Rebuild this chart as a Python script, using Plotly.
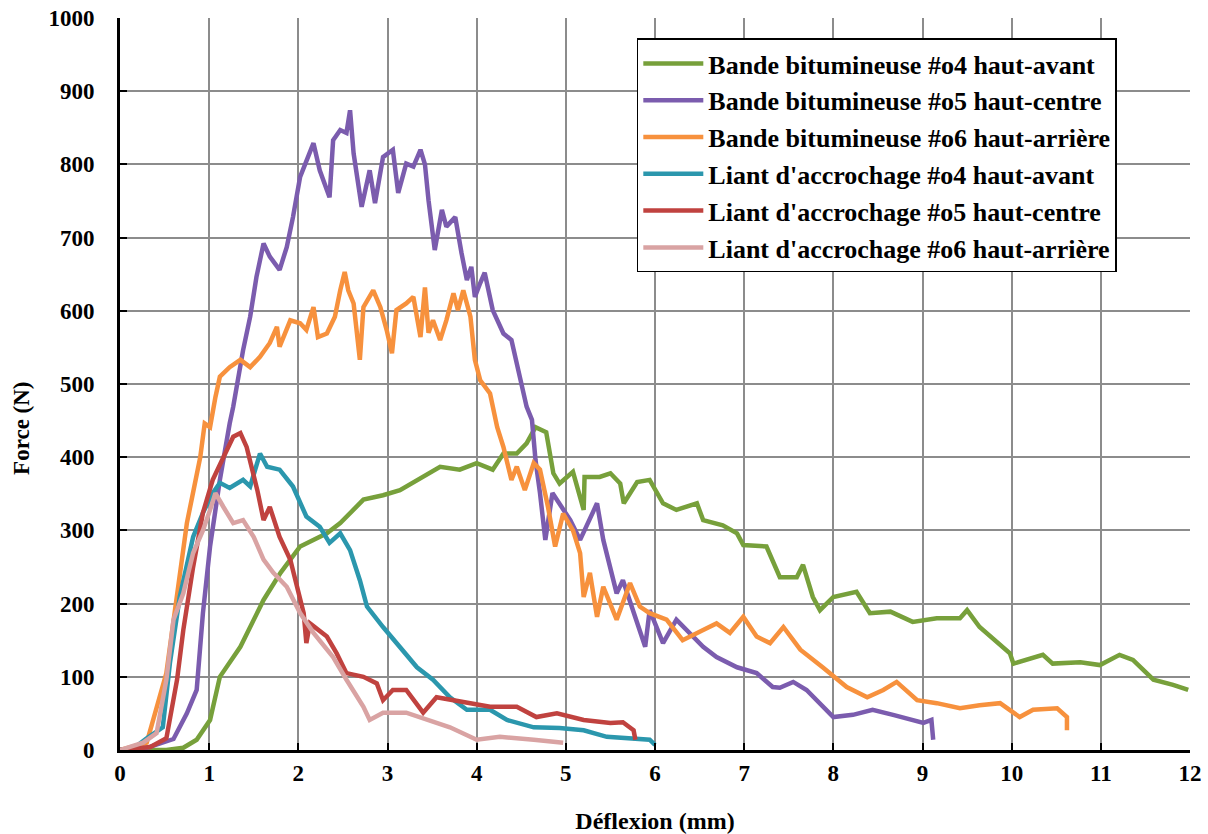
import plotly.graph_objects as go

# ---- Data ----
green_x = [0.0, 0.52, 0.71, 0.86, 1.01, 1.12, 1.35, 1.61, 1.80, 2.02, 2.32, 2.47, 2.73, 2.95, 3.14, 3.33, 3.59, 3.81,
           4.00, 4.18, 4.30, 4.45, 4.56, 4.66, 4.78, 4.86, 4.93, 5.08, 5.20, 5.21, 5.38, 5.50, 5.61, 5.65, 5.80, 5.94,
           6.09, 6.24, 6.47, 6.54, 6.76, 6.92, 6.99, 7.25, 7.37, 7.40, 7.59, 7.66, 7.77, 7.85, 8.00, 8.26, 8.41, 8.64,
           8.89, 9.16, 9.42, 9.50, 9.64, 9.98, 10.02, 10.35, 10.46, 10.77, 10.99, 11.21, 11.36, 11.59, 11.81, 11.98]
green_y = [0, 0, 3, 14, 41, 100, 141, 205, 242, 278, 296, 310, 342, 348, 355, 369, 387, 383,
           392, 383, 405, 405, 419, 441, 434, 378, 364, 380, 328, 373, 373, 378, 364, 337, 366, 369,
           337, 328, 337, 314, 307, 296, 280, 278, 242, 236, 236, 253, 209, 191, 209, 216, 187, 189,
           175, 180, 180, 191, 168, 132, 118, 130, 118, 120, 116, 130, 123, 96, 89, 82]

purple_x = [0.0, 0.30, 0.60, 0.75, 0.86, 0.93, 1.01, 1.12, 1.23, 1.27, 1.38, 1.46, 1.53, 1.61, 1.68, 1.79, 1.87, 1.94,
            2.02, 2.09, 2.17, 2.24, 2.35, 2.39, 2.47, 2.54, 2.58, 2.62, 2.71, 2.80, 2.86, 2.95, 3.06, 3.12, 3.21,
            3.29, 3.37, 3.42, 3.46, 3.53, 3.61, 3.66, 3.76, 3.83, 3.89, 3.94, 3.98, 4.04, 4.09, 4.18, 4.30, 4.39,
            4.49, 4.56, 4.62, 4.66, 4.71, 4.77, 4.85, 4.93, 5.05, 5.16, 5.35, 5.42, 5.57, 5.64, 5.74, 5.81, 5.89,
            5.94, 6.09, 6.24, 6.54, 6.69, 6.92, 7.14, 7.32, 7.40, 7.55, 7.70, 7.85, 8.00, 8.22, 8.44, 8.67, 8.89,
            9.01, 9.10, 9.12]
purple_y = [0, 3, 15, 50, 82, 187, 278, 369, 446, 469, 546, 592, 646, 692, 674, 656, 687, 728,
            783, 806, 829, 792, 755, 833, 847, 843, 874, 815, 742, 792, 747, 810, 820, 761, 801,
            797, 820, 800, 751, 683, 738, 715, 728, 679, 642, 660, 619, 638, 652, 601, 569, 560,
            510, 469, 451, 396, 351, 287, 351, 337, 314, 287, 337, 287, 214, 232, 195, 168, 141,
            191, 146, 178, 141, 127, 113, 105, 86, 85, 93, 82, 64, 45, 48, 55, 48, 41,
            37, 41, 14]

orange_x = [0.0, 0.30, 0.52, 0.64, 0.75, 0.81, 0.90, 0.95, 1.01, 1.07, 1.12, 1.23, 1.35, 1.46, 1.57, 1.68, 1.76,
            1.79, 1.91, 2.02, 2.09, 2.17, 2.22, 2.32, 2.41, 2.47, 2.52, 2.56, 2.62, 2.69, 2.73, 2.84, 2.92, 2.99,
            3.05, 3.10, 3.21, 3.29, 3.37, 3.42, 3.46, 3.51, 3.59, 3.66, 3.74, 3.79, 3.85, 3.93, 3.98, 4.04, 4.15,
            4.23, 4.30, 4.39, 4.45, 4.54, 4.64, 4.71, 4.80, 4.88, 4.97, 5.08, 5.16, 5.20, 5.27, 5.35, 5.42, 5.57,
            5.72, 5.83, 5.94, 6.13, 6.31, 6.54, 6.69, 6.84, 6.99, 7.14, 7.29, 7.44, 7.63, 7.88, 8.15, 8.38, 8.56,
            8.71, 8.94, 9.16, 9.42, 9.64, 9.87, 10.02, 10.09, 10.24, 10.51, 10.62, 10.62]
orange_y = [0, 10, 105, 209, 310, 346, 400, 446, 441, 482, 510, 523, 533, 523, 537, 556, 578,
            551, 587, 583, 574, 605, 564, 569, 592, 628, 653, 628, 610, 533, 605, 628, 605, 574,
            542, 601, 610, 619, 564, 632, 570, 587, 560, 587, 624, 601, 628, 592, 533, 505, 487,
            441, 414, 369, 387, 355, 392, 383, 332, 278, 323, 300, 269, 209, 242, 182, 223, 178,
            228, 196, 187, 178, 150, 164, 173, 160, 182, 155, 146, 168, 137, 113, 86, 72, 82,
            93, 68, 64, 57, 61, 64, 51, 45, 55, 57, 45, 27]

teal_x = [0.0, 0.15, 0.30, 0.48, 0.56, 0.67, 0.82, 0.93, 1.04, 1.12, 1.23, 1.38, 1.46, 1.57, 1.65, 1.79, 1.94,
          2.09, 2.24, 2.35, 2.47, 2.58, 2.69, 2.77, 2.95, 3.14, 3.33, 3.51, 3.70, 3.89, 4.15, 4.34, 4.64, 4.93,
          5.20, 5.46, 5.72, 5.94, 6.00]
teal_y = [0, 2, 16, 31, 119, 209, 291, 324, 351, 365, 358, 369, 360, 405, 387, 383, 360,
          319, 305, 283, 296, 273, 232, 196, 168, 141, 113, 96, 72, 55, 55, 41, 31, 30,
          27, 18, 16, 14, 7]

red_x = [0.0, 0.34, 0.52, 0.64, 0.71, 0.82, 0.93, 1.04, 1.16, 1.27, 1.35, 1.42, 1.54, 1.61, 1.68, 1.79, 1.91,
         1.98, 2.06, 2.09, 2.13, 2.32, 2.43, 2.54, 2.73, 2.88, 2.95, 3.06, 3.21, 3.40, 3.55, 3.74, 3.96, 4.15,
         4.45, 4.67, 4.90, 5.20, 5.50, 5.64, 5.76, 5.78]
red_y = [0, 4, 16, 96, 164, 250, 324, 369, 400, 428, 433, 414, 355, 314, 332, 291, 260,
         223, 187, 146, 173, 155, 132, 105, 100, 91, 68, 82, 82, 51, 72, 68, 64, 59,
         59, 45, 50, 41, 37, 38, 27, 14]

pink_x = [0.0, 0.26, 0.41, 0.52, 0.60, 0.71, 0.82, 0.93, 1.01, 1.07, 1.16, 1.27, 1.38, 1.50, 1.61, 1.72, 1.87,
          2.02, 2.17, 2.39, 2.54, 2.73, 2.80, 2.95, 3.21, 3.44, 3.70, 4.00, 4.26, 4.64, 4.97]
pink_y = [0, 10, 23, 96, 178, 214, 269, 300, 328, 351, 332, 310, 314, 291, 260, 242, 223,
          187, 160, 127, 96, 59, 41, 51, 51, 41, 31, 14, 18, 14, 10]

names = ["Bande bitumineuse #o4 haut-avant", "Bande bitumineuse #o5 haut-centre",
         "Bande bitumineuse #o6 haut-arrière", "Liant d'accrochage #o4 haut-avant",
         "Liant d'accrochage #o5 haut-centre", "Liant d'accrochage #o6 haut-arrière"]
colors = ["#77a03b", "#7b5cae", "#f7913d", "#2b97ad", "#c0423f", "#d9a3a3"]
xs = [green_x, purple_x, orange_x, teal_x, red_x, pink_x]
ys = [green_y, purple_y, orange_y, teal_y, red_y, pink_y]

x_ticks = list(range(0, 13))
y_ticks = list(range(0, 1001, 100))

FONT = "Liberation Serif"

fig = go.Figure()
for i in range(6):
    fig.add_trace(go.Scatter(x=xs[i], y=ys[i], mode="lines", name=names[i],
                             line=dict(color=colors[i], width=4.5)))

fig.update_layout(
    width=1208, height=834,
    margin=dict(l=120, r=18, t=18, b=84),
    paper_bgcolor="white", plot_bgcolor="white",
    font=dict(family=FONT, size=23, color="black", weight="bold"),
    showlegend=True,
    legend=dict(x=0.483, y=0.972, xanchor="left", yanchor="top",
                bgcolor="white", bordercolor="black", borderwidth=1.5,
                font=dict(family=FONT, size=26, color="black", weight="bold"),
                itemwidth=60),
    annotations=[dict(text="Force (N)", textangle=-90, xref="paper", yref="paper",
                      x=-0.0916, y=0.44, xanchor="center", yanchor="middle", showarrow=False,
                      font=dict(family=FONT, size=23, color="black", weight="bold"))],
)
fig.update_xaxes(range=[0, 12], tickvals=x_ticks, ticktext=[str(v) for v in x_ticks],
                 showline=True, linecolor="black", linewidth=3, automargin=False,
                 showgrid=True, gridcolor="#8c8c8c", gridwidth=1.5,
                 ticks="inside", ticklen=7, tickwidth=2, tickcolor="black",
                 zeroline=False,
                 tickfont=dict(family=FONT, size=23, weight="bold"),
                 title=dict(text="Déflexion (mm)", standoff=28,
                            font=dict(family=FONT, size=24, weight="bold")))
fig.update_yaxes(range=[0, 1000], tickvals=y_ticks, ticktext=[str(v) for v in y_ticks],
                 showline=True, linecolor="black", linewidth=3, automargin=False,
                 showgrid=True, gridcolor="#8c8c8c", gridwidth=1.5,
                 ticks="inside", ticklen=7, tickwidth=2, tickcolor="black",
                 zeroline=False, ticklabelstandoff=18,
                 tickfont=dict(family=FONT, size=23, weight="bold"))

fig.write_html("out.html")
